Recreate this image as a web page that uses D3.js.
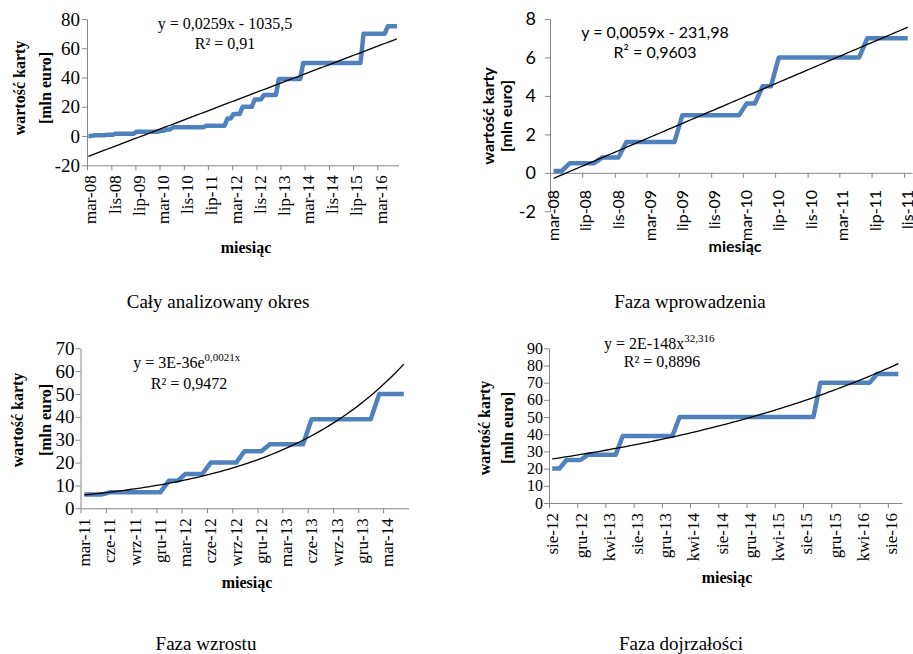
<!DOCTYPE html>
<html>
<head>
<meta charset="utf-8">
<script src="https://cdn.jsdelivr.net/npm/d3@7"></script>
<style>
body { margin: 0; background: #fff; }
</style>
</head>
<body>
<svg width="913" height="654"></svg>
<script>
var monthNames = ["sty", "lut", "mar", "kwi", "maj", "cze", "lip", "sie", "wrz", "paź", "lis", "gru"];
var firstYear = 2008, firstMonth = 2; // mar-08

// card value [mln euro], one value per month, mar-08 .. wrz-16
var cardValue = [
    0.1, 0.1, 0.5, 0.5, 0.5, 0.5, 0.8, 0.8, 0.8, 1.6,            // 2008 (mar-gru)
    1.6, 1.6, 1.6, 1.6, 1.6, 1.6, 3, 3, 3, 3, 3, 3,               // 2009
    3, 3, 3.6, 3.6, 4.5, 4.5, 6, 6, 6, 6, 6, 6,                   // 2010
    6, 6, 6, 6, 6, 7, 7, 7, 7, 7, 7, 7,                           // 2011
    12, 12, 15, 15, 15, 20, 20, 20, 20, 25, 25, 25,               // 2012
    28, 28, 28, 28, 28, 39, 39, 39, 39, 39, 39, 39,               // 2013
    39, 50, 50, 50, 50, 50, 50, 50, 50, 50, 50, 50,               // 2014
    50, 50, 50, 50, 50, 50, 50, 50, 50, 70, 70, 70,               // 2015
    70, 70, 70, 70, 70, 75, 75, 75, 75                            // 2016 (sty-wrz)
];

var phaseTitles = ["Cały analizowany okres", "Faza wprowadzenia", "Faza wzrostu", "Faza dojrzałości"];
var phaseStart = [0, 0, 36, 53];     // month index: mar-08, mar-08, mar-11, sie-12
var phaseEnd = [102, 44, 74, 102];   // wrz-16, lis-11, maj-14, wrz-16
var trendTypes = ["linear", "linear", "exp", "power"];
var eqMain = ["y = 0,0259x - 1035,5", "y = 0,0059x - 231,98", "y = 3E-36e", "y = 2E-148x"];
var eqSup = ["", "", "0,0021x", "32,316"];
var r2Text = ["R² = 0,91", "R² = 0,9603", "R² = 0,9472", "R² = 0,8896"];
var yDomains = [[-20, 80], [-2, 8], [0, 70], [0, 90]];
var yStep = [20, 2, 10, 10];
var xAxisCross = [-20, 0, 0, 0];
var xTickMonths = [8, 4, 3, 4];
var yTitle = ["wartość karty", "[mln euro]"];
var xTitle = "miesiąc";

var serif = "'Liberation Serif', 'Times New Roman', serif";
var sans = "Lato, 'Liberation Sans', sans-serif";

// layout of the four panels
var panels = [
    {x0: 87, x1: 398.5, y0: 19, y1: 165.3, font: serif, tick: 17, ytick: 19, ylab: -7, yt: [19, 45], ytc: 88, xt: [246, 253],
     eq: {x: 225, y: 29.3, anchor: "middle"}, r2: {x: 225, y: 49}, cap: [218, 308], xlab: 5},
    {x0: 550, x1: 912, y0: 19, y1: 211.3, font: sans, tick: 16, ytick: 18, ylab: -14, yt: [488, 506], ytc: 116, xt: [735, 252],
     eq: {x: 655, y: 38.3, anchor: "middle"}, r2: {x: 655, y: 58.3}, cap: [690, 308], xlab: 12},
    {x0: 80.5, x1: 408.5, y0: 348.3, y1: 508.3, font: serif, tick: 17, ytick: 19, ylab: -6, yt: [17.5, 45], ytc: 420, xt: [247, 588],
     eq: {x: 133.3, y: 368.3, anchor: "start"}, r2: {x: 189, y: 389.3}, cap: [206, 650], xlab: 5},
    {x0: 549, x1: 902, y0: 348.3, y1: 503, font: serif, tick: 17, ytick: 16, ylab: -6, yt: [484, 507], ytc: 428, xt: [727, 583],
     eq: {x: 604, y: 349, anchor: "start"}, r2: {x: 662, y: 367.3}, cap: [681, 650], xlab: 5}
];

var axisColor = "#868686";
var svg = d3.select("svg");

function excelSerial(d) { return d.getTime() / 86400000 + 25569; }

function fitLine(xs, ys) {
    var n = xs.length, mx = d3.mean(xs), my = d3.mean(ys), sxy = 0, sxx = 0;
    for (var i = 0; i < n; i++) { sxy += (xs[i] - mx) * (ys[i] - my); sxx += (xs[i] - mx) * (xs[i] - mx); }
    var b = sxy / sxx;
    return {a: my - b * mx, b: b};
}

function trendFunc(type, pts) {
    var ts = pts.map(function(d) { return d.t; });
    var vs = pts.map(function(d) { return d.v; });
    if (type == "linear") {
        var f = fitLine(ts, vs);
        return function(t) { return f.a + f.b * t; };
    }
    if (type == "exp") {
        var f = fitLine(ts, vs.map(Math.log));
        return function(t) { return Math.exp(f.a + f.b * t); };
    }
    var f = fitLine(ts.map(Math.log), vs.map(Math.log));
    return function(t) { return Math.exp(f.a + f.b * Math.log(t)); };
}

function fmtMonth(d) {
    return monthNames[d.getMonth()] + "-" + String(d.getFullYear()).slice(2);
}

panels.forEach(function(p, k) {
    var pts = [];
    for (var i = phaseStart[k]; i <= phaseEnd[k]; i++) {
        var dt = new Date(firstYear, firstMonth + i, 15);
        pts.push({date: dt, t: excelSerial(dt), v: cardValue[i]});
    }
    var d0 = new Date(firstYear, firstMonth + phaseStart[k], 1);
    var d1 = new Date(firstYear, firstMonth + phaseEnd[k] + 1, 1);
    var x = d3.scaleTime().domain([d0, d1]).range([p.x0, p.x1]);
    var y = d3.scaleLinear().domain(yDomains[k]).range([p.y1, p.y0]);

    var g = svg.append("g").style("font-family", p.font);

    // y axis
    var yTicks = d3.range(yDomains[k][0], yDomains[k][1] + yStep[k] / 2, yStep[k]);
    var ya = g.append("g").attr("transform", "translate(" + p.x0 + ",0)")
        .call(d3.axisLeft(y).tickValues(yTicks).tickSize(5).tickSizeOuter(0)
            .tickFormat(function(d) { return String(d); }));
    ya.select(".domain").attr("stroke", axisColor);
    ya.selectAll(".tick line").attr("stroke", axisColor);
    ya.selectAll(".tick text").attr("x", p.ylab).attr("fill", "#000")
        .style("font-size", p.ytick + "px").style("font-family", p.font);

    // x axis
    var xTicks = d3.timeMonth.range(d0, d1, xTickMonths[k]);
    var xa = g.append("g").attr("transform", "translate(0," + y(xAxisCross[k]) + ")")
        .call(d3.axisBottom(x).tickValues(xTicks).tickSize(5).tickSizeOuter(0).tickFormat(fmtMonth));
    xa.select(".domain").attr("stroke", axisColor);
    xa.selectAll(".tick line").attr("stroke", axisColor);
    xa.selectAll(".tick text")
        .attr("transform", "rotate(-90)")
        .attr("text-anchor", "end")
        .attr("x", -p.xlab - 5)
        .attr("y", 3)
        .attr("dy", "0.35em")
        .attr("fill", "#000")
        .style("font-size", p.tick + "px")
        .style("font-family", p.font);

    // data line
    var line = d3.line().x(function(d) { return x(d.date); }).y(function(d) { return y(d.v); });
    g.append("path").datum(pts)
        .attr("d", line)
        .attr("fill", "none")
        .attr("stroke", "#4f81bd")
        .attr("stroke-width", 4.5)
        .attr("stroke-linejoin", "round");

    // trend line
    var f = trendFunc(trendTypes[k], pts);
    var t0 = pts[0].t, t1 = pts[pts.length - 1].t;
    var tr = d3.range(0, 81).map(function(j) {
        var t = t0 + (t1 - t0) * j / 80;
        return {date: new Date((t - 25569) * 86400000), v: f(t)};
    });
    g.append("path").datum(tr)
        .attr("d", line)
        .attr("fill", "none")
        .attr("stroke", "#000")
        .attr("stroke-width", 1.3);

    // equation and R²
    var eq = g.append("text")
        .attr("x", p.eq.x).attr("y", p.eq.y)
        .attr("text-anchor", p.eq.anchor)
        .style("font-size", "16px")
        .text(eqMain[k]);
    if (eqSup[k]) {
        eq.append("tspan").attr("dy", -7).style("font-size", "11px").text(eqSup[k]);
    }
    g.append("text")
        .attr("x", p.r2.x).attr("y", p.r2.y)
        .attr("text-anchor", "middle")
        .style("font-size", "16px")
        .text(r2Text[k]);

    // axis titles
    yTitle.forEach(function(s, j) {
        g.append("text")
            .attr("transform", "translate(" + p.yt[j] + "," + p.ytc + ") rotate(-90)")
            .attr("text-anchor", "middle")
            .attr("dy", "0.35em")
            .style("font-size", "16px")
            .style("font-weight", "bold")
            .text(s);
    });
    g.append("text")
        .attr("x", p.xt[0]).attr("y", p.xt[1])
        .attr("text-anchor", "middle")
        .style("font-size", "16px")
        .style("font-weight", "bold")
        .text(xTitle);

    // caption under the panel
    svg.append("text")
        .attr("x", p.cap[0]).attr("y", p.cap[1])
        .attr("text-anchor", "middle")
        .style("font-family", serif)
        .style("font-size", "19px")
        .text(phaseTitles[k]);
});
</script>
</body>
</html>
